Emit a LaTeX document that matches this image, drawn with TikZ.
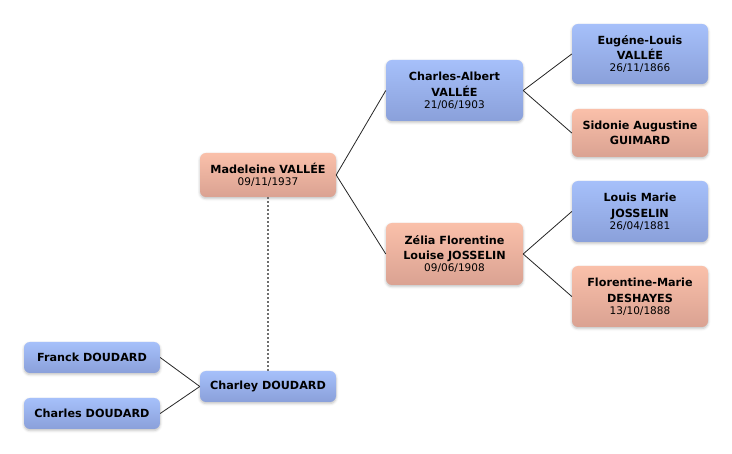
\documentclass[tikz,border=0pt]{standalone}
\usepackage{fontspec}
\setmainfont{DejaVu Sans}
\usetikzlibrary{shadows.blur}
\newcommand{\pdate}[1]{{\fontsize{10.5}{12}\mdseries\selectfont #1}}
\definecolor{bluetop}{RGB}{166,192,250}
\definecolor{bluebot}{RGB}{138,160,218}
\definecolor{pinktop}{RGB}{250,192,170}
\definecolor{pinkbot}{RGB}{218,162,146}
\definecolor{dotgrey}{RGB}{110,110,110}
\tikzset{
  person/.style={rounded corners=6pt, align=center, inner sep=0pt,
    font=\fontsize{11.2}{15.5}\bfseries\selectfont,
    blur shadow={shadow xshift=0pt, shadow yshift=-1.5pt, shadow blur radius=2.5pt, shadow opacity=25}},
  male/.style={person, top color=bluetop, bottom color=bluebot},
  female/.style={person, top color=pinktop, bottom color=pinkbot},
  link/.style={draw=black!85, line width=0.8pt},
  union/.style={draw=dotgrey, line width=1.8pt, dash pattern=on 2pt off 2pt}
}
\begin{document}
\begin{tikzpicture}[x=1pt, y=-1pt]
\useasboundingbox (0,0) rectangle (732,454);
\node[male, minimum width=137pt, minimum height=61pt] (ca) at (454.5,90.5) {Charles-Albert\\VALLÉE\\[-3.5pt]\pdate{21/06/1903}};
\node[male, minimum width=136pt, minimum height=60pt] (el) at (640,54) {Eugéne-Louis\\VALLÉE\\[-3.5pt]\pdate{26/11/1866}};
\node[female, minimum width=136pt, minimum height=48pt] (sg) at (640,133) {Sidonie Augustine\\GUIMARD};
\node[female, minimum width=136pt, minimum height=44pt] (mv) at (268,175) {Madeleine VALLÉE\\[-3.5pt]\pdate{09/11/1937}};
\node[female, minimum width=137pt, minimum height=62pt] (zj) at (454.5,254) {Zélia Florentine\\Louise JOSSELIN\\[-3.5pt]\pdate{09/06/1908}};
\node[male, minimum width=136pt, minimum height=61pt] (lm) at (640,211.5) {Louis Marie\\JOSSELIN\\[-3.5pt]\pdate{26/04/1881}};
\node[female, minimum width=136pt, minimum height=61pt] (fd) at (640,296.5) {Florentine-Marie\\DESHAYES\\[-3.5pt]\pdate{13/10/1888}};
\node[male, minimum width=136pt, minimum height=31pt] (fr) at (92,357.5) {Franck DOUDARD};
\node[male, minimum width=136pt, minimum height=31pt] (cs) at (92,413.5) {Charles DOUDARD};
\node[male, minimum width=136pt, minimum height=31pt] (cy) at (268,386.5) {Charley DOUDARD};
\draw[link] (mv.east) -- (ca.west);
\draw[link] (mv.east) -- (zj.west);
\draw[link] (ca.east) -- (el.west);
\draw[link] (ca.east) -- (sg.west);
\draw[link] (zj.east) -- (lm.west);
\draw[link] (zj.east) -- (fd.west);
\draw[link] (cy.west) -- (fr.east);
\draw[link] (cy.west) -- (cs.east);
\draw[union] (mv.south) -- (cy.north);
\end{tikzpicture}
\end{document}
